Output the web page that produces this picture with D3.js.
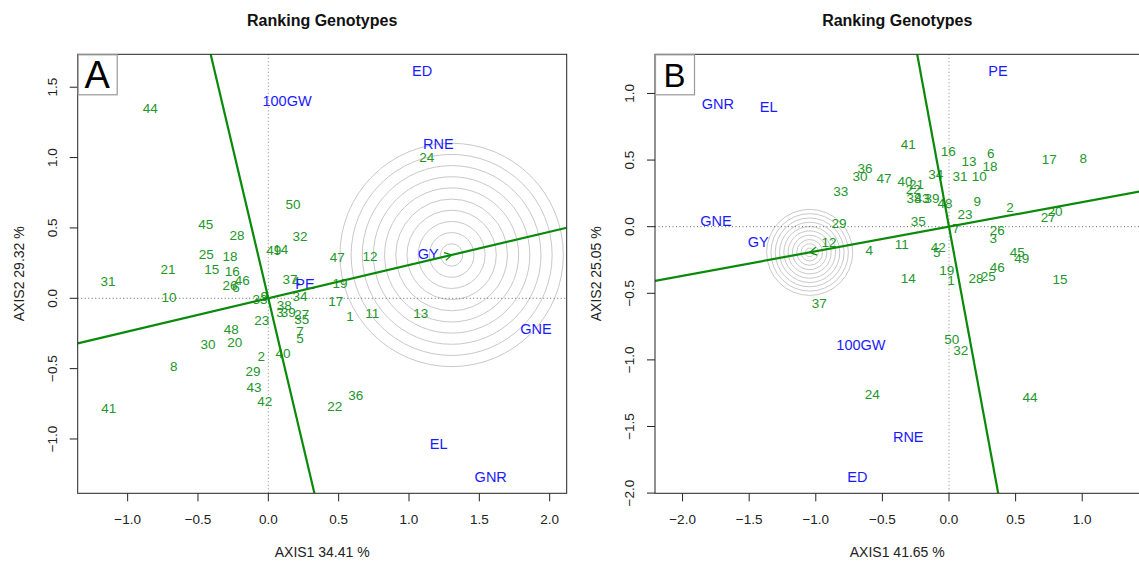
<!DOCTYPE html>
<html><head><meta charset="utf-8">
<script src="https://cdn.jsdelivr.net/npm/d3@7"></script>
<style>body{margin:0;background:#fff}svg{display:block;font-family:"Liberation Sans",Arial,sans-serif}</style>
</head><body>
<svg id="c" width="1139" height="562"></svg>
<script>
// ---------------- DATA ----------------
const genoLabels = ["1","2","3","4","5","6","7","8","9","10","11","12","13","14","15","16","17","18","19","20","21","22","23","24","25","26","27","28","29","30","31","32","33","34","35","36","37","38","39","40","41","42","43","44","45","46","47","48","49","50"];

// Panel A
const genoA_x = [0.581,-0.050,0.083,0.197,0.225,-0.230,0.225,-0.672,-0.028,-0.706,0.739,0.723,1.083,0.088,-0.402,-0.256,0.479,-0.272,0.510,-0.239,-0.713,0.472,-0.047,1.126,-0.441,-0.272,0.237,-0.222,-0.109,-0.429,-1.139,0.225,-0.059,0.225,0.237,0.621,0.154,0.114,0.142,0.104,-1.134,-0.026,-0.102,-0.839,-0.445,-0.185,0.490,-0.263,0.038,0.176];
const genoA_y = [-0.124,-0.410,-0.100,0.123,-0.282,0.082,-0.230,-0.479,0.018,0.011,-0.107,0.301,-0.107,0.350,0.208,0.194,-0.017,0.303,0.111,-0.311,0.208,-0.770,-0.154,1.002,0.313,0.095,-0.114,0.448,-0.517,-0.327,0.123,0.445,-0.005,0.018,-0.147,-0.687,0.137,-0.048,-0.100,-0.387,-0.778,-0.730,-0.628,1.350,0.526,0.130,0.289,-0.220,0.343,0.668];
const envA_lab = ["100GW","ED","RNE","GY","PE","GNE","EL","GNR"];
const envA_x = [0.133,1.093,1.208,1.137,0.261,1.903,1.211,1.581];
const envA_y = [1.402,1.617,1.097,0.313,0.100,-0.218,-1.036,-1.268];
const idealA = [1.303,0.308];
const ringA = [0.0794,0.1588,0.2382,0.3176,0.397,0.4764,0.5558,0.6352,0.7146,0.794];
const xTicksA = [-1.0,-0.5,0.0,0.5,1.0,1.5,2.0];
const yTicksA = [-1.0,-0.5,0.0,0.5,1.0,1.5];

// Panel B
const genoB_x = [0.015,0.458,0.333,-0.598,-0.092,0.313,0.053,1.008,0.213,0.227,-0.355,-0.901,0.150,-0.306,0.833,-0.005,0.753,0.308,-0.017,0.796,-0.243,-0.268,0.120,-0.576,0.295,0.363,0.746,0.203,-0.826,-0.668,0.083,0.088,-0.813,-0.100,-0.230,-0.631,-0.974,-0.263,-0.128,-0.330,-0.306,-0.080,-0.203,0.608,0.513,0.363,-0.488,-0.030,0.546,0.020];
const genoB_y = [-0.400,0.146,-0.087,-0.175,-0.188,0.551,-0.012,0.518,0.188,0.381,-0.130,-0.113,0.493,-0.387,-0.395,0.568,0.508,0.458,-0.330,0.113,0.318,0.281,0.095,-1.258,-0.375,-0.025,0.075,-0.387,0.030,0.383,0.381,-0.926,0.270,0.396,0.045,0.438,-0.575,0.213,0.213,0.345,0.621,-0.155,0.213,-1.281,-0.190,-0.305,0.363,0.176,-0.237,-0.845];
const envB_lab = ["PE","GNR","EL","GNE","GY","100GW","RNE","ED"];
const envB_x = [0.368,-1.736,-1.354,-1.749,-1.432,-0.661,-0.306,-0.688];
const envB_y = [1.169,0.926,0.901,0.045,-0.113,-0.888,-1.577,-1.881];
const idealB = [-1.046,-0.193];
const ringB = [0.0323,0.0646,0.0969,0.1292,0.1615,0.1938,0.2261,0.2584,0.2907,0.323];
const xTicksB = [-2.0,-1.5,-1.0,-0.5,0.0,0.5,1.0];
const yTicksB = [-2.0,-1.5,-1.0,-0.5,0.0,0.5,1.0];

// ---------------- DRAW ----------------
const svg = d3.select("#c");
const GREEN_T = "#22962a", GREEN_L = "#0a8a0a", BLUE = "#1a1aff";
const fmt = d3.format(".1f");

function panel(o){
  const g = svg.append("g");
  const x = d3.scaleLinear().domain(o.xd).range([o.L,o.R]);
  const y = d3.scaleLinear().domain(o.yd).range([o.B,o.T]);
  const clipId = "clip"+o.letter;
  svg.append("clipPath").attr("id",clipId).append("rect")
    .attr("x",o.L).attr("y",o.T).attr("width",o.R-o.L).attr("height",o.B-o.T);
  const p = g.append("g").attr("clip-path",`url(#${clipId})`);

  // circles
  p.selectAll("circle.ring").data(o.rings).enter().append("circle")
    .attr("cx",x(o.ideal[0])).attr("cy",y(o.ideal[1]))
    .attr("r",d=>x(d)-x(0)).attr("fill","none").attr("stroke","#c8c8c8").attr("stroke-width",1);

  // dotted zero lines
  p.append("line").attr("x1",o.L).attr("x2",o.R).attr("y1",y(0)).attr("y2",y(0))
    .attr("stroke","#666").attr("stroke-dasharray","1,2.5");
  p.append("line").attr("y1",o.T).attr("y2",o.B).attr("x1",x(0)).attr("x2",x(0))
    .attr("stroke","#888").attr("stroke-dasharray","1,2.5");

  // genotype labels
  p.selectAll("text.g").data(o.gl).enter().append("text")
    .attr("x",(d,i)=>x(o.gx[i])).attr("y",(d,i)=>y(o.gy[i])).attr("dy","0.36em")
    .attr("text-anchor","middle").attr("font-size",13.5).attr("fill",GREEN_T).text(d=>d);
  // env labels
  p.selectAll("text.e").data(o.el).enter().append("text")
    .attr("x",(d,i)=>x(o.ex[i])).attr("y",(d,i)=>y(o.ey[i])).attr("dy","0.36em")
    .attr("text-anchor","middle").attr("font-size",14.5).attr("fill",BLUE).text(d=>d);

  // AEA line through origin and ideal point
  const s = o.ideal[1]/o.ideal[0];
  const xd = o.xd;
  p.append("line").attr("x1",x(xd[0])).attr("y1",y(s*xd[0])).attr("x2",x(xd[1])).attr("y2",y(s*xd[1]))
    .attr("stroke",GREEN_L).attr("stroke-width",2.2);
  const ps = -1/s, yd = o.yd;
  p.append("line").attr("x1",x(yd[0]/ps)).attr("y1",y(yd[0])).attr("x2",x(yd[1]/ps)).attr("y2",y(yd[1]))
    .attr("stroke",GREEN_L).attr("stroke-width",2.2);

  // arrow head at ideal point
  const tx = x(o.ideal[0]), ty = y(o.ideal[1]);
  const ang = Math.atan2(ty-y(0), tx-x(0));
  const len = 8;
  [Math.PI/6, -Math.PI/6].forEach(a=>{
    p.append("line").attr("x1",tx).attr("y1",ty)
      .attr("x2",tx - len*Math.cos(ang+a)).attr("y2",ty - len*Math.sin(ang+a))
      .attr("stroke",GREEN_L).attr("stroke-width",1.2);
  });

  // box
  g.append("rect").attr("x",o.L).attr("y",o.T).attr("width",o.R-o.L).attr("height",o.B-o.T)
    .attr("fill","none").attr("stroke","#222").attr("stroke-width",1);

  // x axis
  const xa = g.append("g");
  o.xt.forEach(t=>{
    xa.append("line").attr("x1",x(t)).attr("x2",x(t)).attr("y1",o.B).attr("y2",o.B+8).attr("stroke","#222");
    xa.append("text").attr("x",x(t)).attr("y",o.B+26).attr("dy","0.36em").attr("text-anchor","middle")
      .attr("font-size",13.5).attr("fill","#222").text(fmt(t));
  });
  // y axis
  const ya = g.append("g");
  o.yt.forEach(t=>{
    ya.append("line").attr("y1",y(t)).attr("y2",y(t)).attr("x1",o.L).attr("x2",o.L-8).attr("stroke","#222");
    ya.append("text").attr("transform",`translate(${o.L-26},${y(t)}) rotate(-90)`).attr("dy","0.36em")
      .attr("text-anchor","middle").attr("font-size",13.5).attr("fill","#222").text(fmt(t));
  });

  // titles
  const cx = (o.L+o.R)/2;
  g.append("text").attr("x",cx).attr("y",26).attr("text-anchor","middle").attr("font-weight","bold")
    .attr("font-size",16).attr("fill","#111").text("Ranking Genotypes");
  g.append("text").attr("x",cx).attr("y",557).attr("text-anchor","middle").attr("font-size",14)
    .attr("fill","#222").text(o.xlab);
  g.append("text").attr("transform",`translate(${o.L-59},${(o.T+o.B)/2}) rotate(-90)`).attr("dy","0.36em")
    .attr("text-anchor","middle").attr("font-size",14).attr("fill","#222").text(o.ylab);

  // panel letter
  g.append("rect").attr("x",o.L+0.5).attr("y",o.T+0.5).attr("width",39).attr("height",40)
    .attr("fill","#fff").attr("stroke","#999").attr("stroke-width",1.2);
  g.append("text").attr("x",o.L+19.5).attr("y",o.T+20.5).attr("dy","0.36em").attr("text-anchor","middle")
    .attr("font-size",o.lsize).attr("fill","#000").text(o.letter);
}

panel({letter:"A", lsize:38, L:77.7, R:566.7, T:54.3, B:493.3, xd:[-1.355,2.121], yd:[-1.386,1.734],
  gl:genoLabels, gx:genoA_x, gy:genoA_y, el:envA_lab, ex:envA_x, ey:envA_y,
  ideal:idealA, rings:ringA, xt:xTicksA, yt:yTicksA, xlab:"AXIS1 34.41 %", ylab:"AXIS2 29.32 %"});
panel({letter:"B", lsize:33, L:655, R:1139.5, T:54.3, B:493.3, xd:[-2.207,1.430], yd:[-2.0015,1.294],
  gl:genoLabels, gx:genoB_x, gy:genoB_y, el:envB_lab, ex:envB_x, ey:envB_y,
  ideal:idealB, rings:ringB, xt:xTicksB, yt:yTicksB, xlab:"AXIS1 41.65 %", ylab:"AXIS2 25.05 %"});
</script>
</body></html>
